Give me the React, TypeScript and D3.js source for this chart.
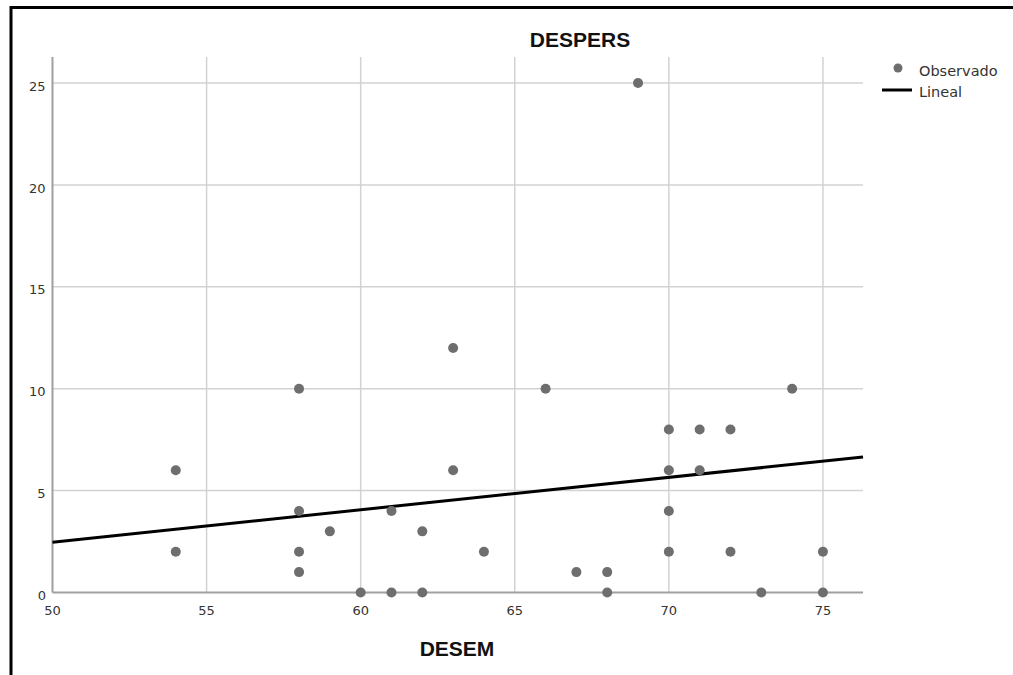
import { useEffect, useRef } from "react";
import * as d3 from "d3";

// DESEM (x) and DESPERS (y) observed values
const desem = [54, 54, 58, 58, 58, 58, 59, 60, 61, 61, 62, 62, 63, 63, 64, 66, 67, 68, 68, 69, 70, 70, 70, 70, 71, 71, 72, 72, 73, 74, 75, 75];
const despers = [6, 2, 10, 4, 2, 1, 3, 0, 4, 0, 3, 0, 12, 6, 2, 10, 1, 1, 0, 25, 8, 6, 4, 2, 8, 6, 8, 2, 0, 10, 2, 0];

// linear fit
const fitIntercept50 = 2.47;
const fitSlope = 0.159;

const xTicks = [50, 55, 60, 65, 70, 75];
const yTicks = [0, 5, 10, 15, 20, 25];
const legendLabels = ["Observado", "Lineal"];

const POINT = "#6e6e6e";
const GRID = "#d2d2d2";
const AXIS = "#a0a0a0";
const TEXT = "#333333";

export default function App() {
  const ref = useRef<SVGSVGElement>(null);

  useEffect(() => {
    if (!ref.current) return;
    const width = 1013;
    const height = 675;
    const plot = { left: 52.5, right: 863, top: 57, bottom: 592.5 };

    const svg = d3.select(ref.current);
    svg.selectAll("*").remove();
    svg.attr("width", width).attr("height", height);

    svg.append("rect").attr("width", width).attr("height", height).attr("fill", "#fff");

    // outer frame (top + left)
    svg.append("line").attr("x1", 10).attr("x2", width).attr("y1", 7.5).attr("y2", 7.5)
      .attr("stroke", "#000").attr("stroke-width", 3);
    svg.append("line").attr("x1", 11).attr("x2", 11).attr("y1", 6).attr("y2", height)
      .attr("stroke", "#000").attr("stroke-width", 3);

    const x = d3.scaleLinear().domain([50, 76.3]).range([plot.left, plot.right]);
    const y = d3.scaleLinear().domain([0, 26.28]).range([plot.bottom, plot.top]);

    // gridlines
    svg.append("g").attr("stroke", GRID).attr("stroke-width", 1.5)
      .selectAll("line").data(yTicks.filter((d) => d > 0)).join("line")
      .attr("x1", plot.left).attr("x2", plot.right)
      .attr("y1", (d) => y(d)).attr("y2", (d) => y(d));
    svg.append("g").attr("stroke", GRID).attr("stroke-width", 1.5)
      .selectAll("line").data(xTicks.filter((d) => d > 50)).join("line")
      .attr("x1", (d) => x(d)).attr("x2", (d) => x(d))
      .attr("y1", plot.top).attr("y2", plot.bottom);

    // axes
    svg.append("line").attr("x1", plot.left).attr("x2", plot.left)
      .attr("y1", plot.top).attr("y2", plot.bottom).attr("stroke", AXIS).attr("stroke-width", 2);
    svg.append("line").attr("x1", plot.left).attr("x2", plot.right)
      .attr("y1", plot.bottom).attr("y2", plot.bottom).attr("stroke", AXIS).attr("stroke-width", 2);

    const font = "'Liberation Sans', Arial, sans-serif";
    const tickFont = "'DejaVu Sans', sans-serif";

    svg.append("g").selectAll("text").data(yTicks).join("text")
      .attr("x", (d) => (d === 0 ? 46 : 45.5))
      .attr("y", (d) => y(d) + 3)
      .attr("dy", "0.35em")
      .attr("text-anchor", "end")
      .attr("font-family", tickFont).attr("font-size", 13).attr("fill", TEXT)
      .text((d) => d);

    svg.append("g").selectAll("text").data(xTicks).join("text")
      .attr("x", (d) => x(d))
      .attr("y", plot.bottom + 22)
      .attr("text-anchor", "middle")
      .attr("font-family", tickFont).attr("font-size", 13).attr("fill", TEXT)
      .text((d) => d);

    // regression line
    svg.append("line")
      .attr("x1", x(50)).attr("y1", y(fitIntercept50))
      .attr("x2", x(76.3)).attr("y2", y(fitIntercept50 + fitSlope * 26.3))
      .attr("stroke", "#000").attr("stroke-width", 3);

    // points
    svg.append("g").selectAll("circle").data(desem.map((d, i) => [d, despers[i]])).join("circle")
      .attr("cx", (d) => x(d[0])).attr("cy", (d) => y(d[1]))
      .attr("r", 5).attr("fill", POINT);

    // titles
    svg.append("text").attr("x", 580).attr("y", 47).attr("text-anchor", "middle")
      .attr("font-family", font).attr("font-size", 21).attr("font-weight", "bold").attr("fill", "#111")
      .text("DESPERS");
    svg.append("text").attr("x", 457).attr("y", 656).attr("text-anchor", "middle")
      .attr("font-family", font).attr("font-size", 21).attr("font-weight", "bold").attr("fill", "#111")
      .text("DESEM");

    // legend
    svg.append("circle").attr("cx", 898).attr("cy", 68).attr("r", 4.5).attr("fill", POINT);
    svg.append("line").attr("x1", 882).attr("x2", 912).attr("y1", 90).attr("y2", 90)
      .attr("stroke", "#000").attr("stroke-width", 3);
    svg.append("g").selectAll("text").data(legendLabels).join("text")
      .attr("x", 919).attr("y", (_, i) => 76 + i * 20.5)
      .attr("font-family", tickFont).attr("font-size", 14.5).attr("fill", TEXT)
      .text((d) => d);
  }, []);

  return <svg ref={ref} style={{ position: "absolute", left: 0, top: 0, display: "block" }} />;
}
